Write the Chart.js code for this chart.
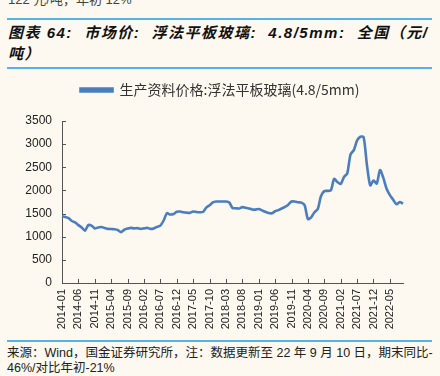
<!DOCTYPE html>
<html><head><meta charset="utf-8">
<script src="https://cdn.jsdelivr.net/npm/chart.js@4.4.1/dist/chart.umd.min.js"></script>
<style>
body{margin:0;background:#FDF9F0;width:440px;height:376px;overflow:hidden;position:relative;font-family:"Liberation Sans","Noto Sans CJK SC",sans-serif;}
.rule{position:absolute;left:7px;width:425px;height:2px;background:#55B4E6;}
#top{position:absolute;left:8px;top:-11px;font-size:13px;color:#444;white-space:nowrap}
#title{position:absolute;left:8px;top:22px;width:470px;font-size:15px;font-weight:bold;font-style:italic;line-height:21px;letter-spacing:1.5px;white-space:nowrap;color:#111}
#src{position:absolute;left:7px;top:346px;font-size:12.5px;line-height:15px;color:#222;white-space:nowrap}
#wrap{position:absolute;left:0;top:72px;width:440px;height:268px}
</style></head>
<body>
<div id="top">122 元/吨，年初 12%</div>
<div class="rule" style="top:18px"></div>
<div id="title">图表 64:&nbsp; 市场价:&nbsp; 浮法平板玻璃:&nbsp; 4.8/5mm:&nbsp; 全国（元/<br>吨）</div>
<div class="rule" style="top:67px"></div>
<div id="wrap"><canvas id="c"></canvas></div>
<div class="rule" style="top:340px"></div>
<div id="src">来源：Wind，国金证券研究所，注：数据更新至 22 年 9 月 10 日，期末同比-<br>46%/对比年初-21%</div>
<script>
const seriesName = "生产资料价格:浮法平板玻璃(4.8/5mm)";
const startYear = 2014, startMonth = 1, monthCount = 105;
const categories = [];
for (let i = 0; i < monthCount; i++) {
  const y = startYear + Math.floor((startMonth - 1 + i) / 12);
  const m = (startMonth - 1 + i) % 12 + 1;
  categories.push(y + "-" + String(m).padStart(2, "0"));
}
const prices = [
 1440,1425,1400,1340,1310,1250,1200,1130,1250,1240,
 1180,1200,1210,1190,1170,1165,1160,1145,1100,1150,
 1175,1192,1180,1185,1170,1180,1190,1170,1180,1213,
 1240,1350,1510,1480,1490,1540,1545,1530,1520,1515,
 1545,1535,1530,1535,1628,1678,1740,1760,1760,1760,
 1760,1740,1620,1615,1610,1640,1625,1610,1590,1585,
 1600,1570,1540,1513,1505,1550,1575,1610,1642,1692,
 1760,1760,1745,1735,1678,1380,1420,1530,1600,1880,
 1985,1990,2000,2250,2180,2140,2290,2370,2780,2870,
 3080,3160,3150,2550,2110,2214,2150,2440,2270,2036,
 1900,1800,1700,1750,1714];
const yTicks = [0,500,1000,1500,2000,2500,3000,3500];
const labelEvery = 5;

const inwardTicks = {
  id: 'inwardTicks',
  afterDatasetsDraw(chart) {
    const {ctx, scales: {x, y}, chartArea} = chart;
    ctx.save();
    ctx.strokeStyle = '#555'; ctx.lineWidth = 1;
    ctx.beginPath();
    x.ticks.forEach((t, i) => {
      if (i % labelEvery === 0) {
        const px = Math.round(x.getPixelForTick(i)) + 0.5;
        ctx.moveTo(px, chartArea.bottom); ctx.lineTo(px, chartArea.bottom - 4);
      }
    });
    y.ticks.forEach((t, i) => {
      const py = Math.round(y.getPixelForTick(i)) + 0.5;
      ctx.moveTo(chartArea.left, py); ctx.lineTo(chartArea.left + 4, py);
    });
    ctx.stroke(); ctx.restore();
  }
};
const legendGap = {
  id: 'legendGap',
  beforeUpdate(chart) {
    const lg = chart.legend;
    if (lg && !lg._gapPatched) {
      const f = lg.fit;
      lg.fit = function() { f.call(this); this.height += 14; };
      lg._gapPatched = true;
    }
  }
};

new Chart(document.getElementById('c'), {
  type: 'line',
  data: {
    labels: categories,
    datasets: [{
      label: seriesName,
      data: prices,
      borderColor: '#4A7EC0',
      backgroundColor: '#4A7EC0',
      borderWidth: 2.6,
      pointRadius: 0,
      tension: 0.25,
      fill: false
    }]
  },
  options: {
    responsive: true,
    maintainAspectRatio: false,
    animation: false,
    layout: {padding: {left: 0, right: 0, top: 1, bottom: 0}},
    plugins: {
      legend: {
        display: true,
        labels: {
          boxWidth: 32, boxHeight: 3, padding: 10,
          color: '#333',
          font: {family: '"Noto Sans CJK SC"', size: 14}
        }
      },
      tooltip: {enabled: false}
    },
    scales: {
      x: {
        type: 'category',
        offset: false,
        grid: {display: false, drawTicks: false},
        border: {display: true, color: '#555', width: 1},
        ticks: {
          autoSkip: false, maxRotation: 90, minRotation: 90, padding: 6,
          color: '#222', font: {family: '"Liberation Sans"', size: 11},
          callback: function(v, i) { return i % labelEvery === 0 ? categories[i] : ''; }
        },
        afterFit(s) { s.height = 57; }
      },
      y: {
        min: 0, max: 3500,
        afterBuildTicks(s) { s.ticks = yTicks.map(v => ({value: v})); },
        grid: {display: false, drawTicks: false},
        border: {display: true, color: '#555', width: 1},
        ticks: {padding: 10, color: '#222', font: {family: '"Liberation Sans"', size: 12},
          callback: v => String(v)},
        afterFit(s) { s.width = 62; }
      },
      yRightSpace: {
        position: 'right',
        display: true,
        grid: {display: false, drawTicks: false},
        border: {display: false},
        ticks: {display: false},
        afterFit(s) { s.width = 37; }
      }
    }
  },
  plugins: [inwardTicks, legendGap]
});
</script>
</body></html>
